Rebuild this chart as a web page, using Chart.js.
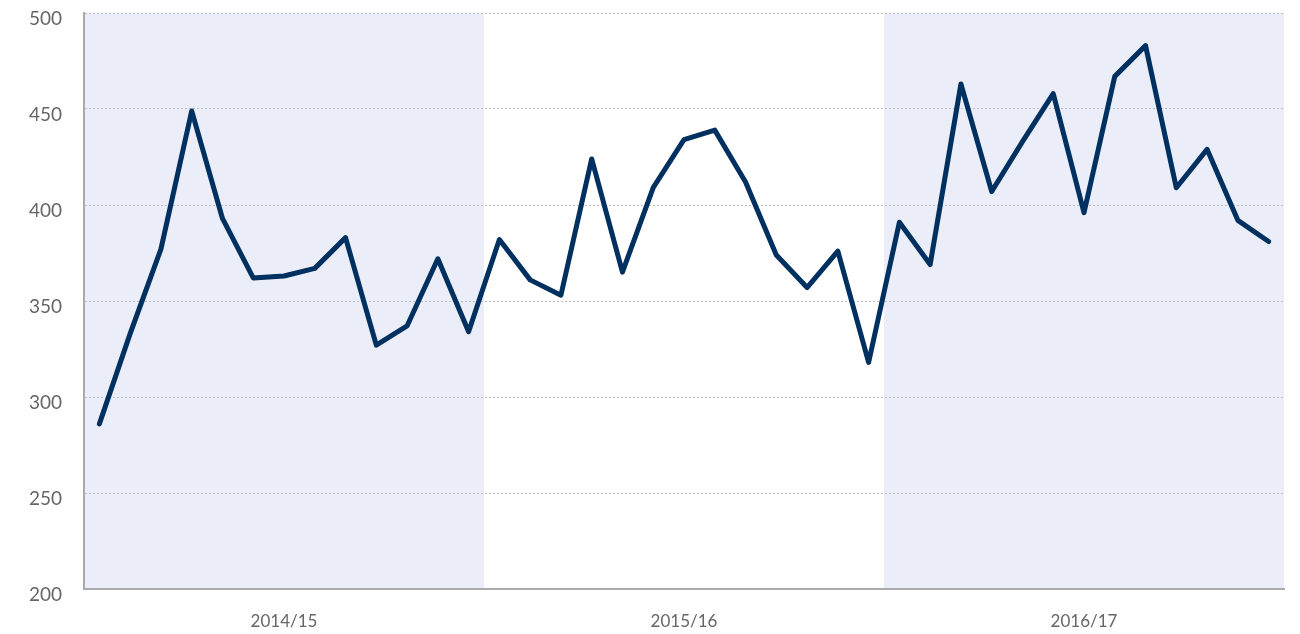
<!DOCTYPE html>
<html>
<head>
<meta charset="utf-8">
<script src="https://cdn.jsdelivr.net/npm/chart.js@4/dist/chart.umd.min.js"></script>
<style>
  html, body { margin: 0; padding: 0; background: #fff; }
  #wrap { width: 1300px; height: 634px; }
</style>
</head>
<body>
<div id="wrap"><canvas id="chart" width="1300" height="634"></canvas></div>
<script>
// 13 four-week periods per financial year
const years = ['2014/15', '2015/16', '2016/17'];
const periodsPerYear = 13;

const values = [
  286, 333, 377, 449, 393, 362, 363, 367, 383, 327, 337, 372, 334,
  382, 361, 353, 424, 365, 409, 434, 439, 412, 374, 357, 376, 318,
  391, 369, 463, 407, 433, 458, 396, 467, 483, 409, 429, 392, 381,
];

const yTicks = [200, 250, 300, 350, 400, 450, 500];

const labels = [];
years.forEach(year => {
  for (let p = 1; p <= periodsPerYear; p++) labels.push(`${year} P${p}`);
});

const bandColor = '#ebedf8';
const tickColor = '#666';

// shade alternate years behind the grid
const yearBands = {
  id: 'yearBands',
  beforeDraw(chart) {
    const { ctx, chartArea, scales: { x } } = chart;
    const half = (x.getPixelForValue(1) - x.getPixelForValue(0)) / 2;
    ctx.save();
    ctx.fillStyle = bandColor;
    years.forEach((year, i) => {
      if (i % 2 === 1) return;
      const start = x.getPixelForValue(i * periodsPerYear) - half;
      const end = x.getPixelForValue((i + 1) * periodsPerYear - 1) + half;
      ctx.fillRect(start, chartArea.top, end - start, chartArea.bottom - chartArea.top);
    });
    ctx.restore();
  },
};

new Chart(document.getElementById('chart'), {
  type: 'line',
  data: {
    labels,
    datasets: [{
      data: values,
      borderColor: '#00305f',
      borderWidth: 5,
      pointRadius: 0,
      tension: 0,
      borderJoinStyle: 'round',
      borderCapStyle: 'round',
    }],
  },
  options: {
    responsive: false,
    animation: false,
    layout: { padding: { top: 13, right: 16, left: 0, bottom: 0 } },
    plugins: { legend: { display: false }, tooltip: { enabled: false } },
    scales: {
      x: {
        offset: true,
        grid: { display: false, drawTicks: false },
        border: { display: true, color: '#aaa', width: 2 },
        ticks: {
          autoSkip: false,
          maxRotation: 0,
          padding: 22,
          color: tickColor,
          font: { family: 'Lato', size: 17 },
          callback: (value, index) => index % periodsPerYear === 6 ? years[Math.floor(index / periodsPerYear)] : '',
        },
        afterFit: scale => {
          scale.height = 45;
          scale.paddingLeft = 0;
          scale.paddingRight = 0;
        },
      },
      y: {
        min: 200,
        max: 500,
        afterBuildTicks: scale => { scale.ticks = yTicks.map(v => ({ value: v })); },
        grid: { color: '#bdbdbd', lineWidth: 1, drawTicks: false },
        border: { display: true, color: '#aaa', width: 2, dash: [2, 2] },
        ticks: {
          padding: 22,
          color: tickColor,
          font: { family: 'Lato', size: 19, lineHeight: 0.65 },
          // blank first line nudges each label a little below its grid line
          callback: value => ['', String(value)],
        },
        afterFit: scale => {
          scale.width = 84;
          scale.paddingTop = 0;
          scale.paddingBottom = 0;
        },
      },
    },
  },
  plugins: [yearBands],
});
</script>
</body>
</html>
